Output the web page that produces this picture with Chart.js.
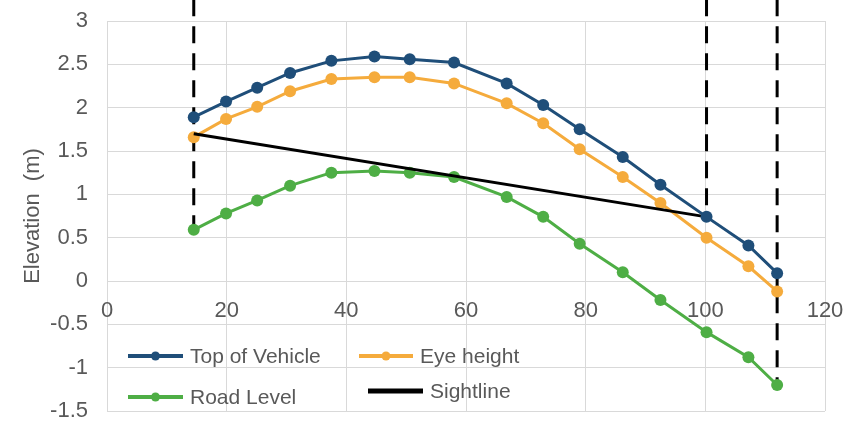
<!DOCTYPE html>
<html>
<head>
<meta charset="utf-8">
<script src="https://cdn.jsdelivr.net/npm/chart.js@4/dist/chart.umd.min.js"></script>
<style>
  body { margin: 0; background: #fff; }
</style>
</head>
<body>
<canvas id="chartElev" width="863" height="423"></canvas>
<script>
// chainage (m) of each survey point
const distance = [14.5, 19.9, 25.1, 30.6, 37.5, 44.7, 50.6, 58.0, 66.8, 72.9, 79.0, 86.2, 92.5, 100.2, 107.2, 112];
const topOfVehicle = [1.89, 2.07, 2.23, 2.40, 2.54, 2.59, 2.56, 2.52, 2.28, 2.03, 1.75, 1.43, 1.11, 0.74, 0.41, 0.09];
const eyeHeight = [1.66, 1.87, 2.01, 2.19, 2.33, 2.35, 2.35, 2.28, 2.05, 1.82, 1.52, 1.20, 0.90, 0.50, 0.17, -0.12];
const roadLevel = [0.59, 0.78, 0.93, 1.10, 1.25, 1.27, 1.25, 1.20, 0.97, 0.74, 0.43, 0.10, -0.22, -0.59, -0.88, -1.20];

const sightX = [14.5, 100.2];
const sightY = [1.70, 0.74];

// vertical markers: x position, lower end, upper end
const markerX = [14.5, 100.2, 112];
const markerLow = [0.59, 0.74, -1.20];
const markerHigh = [3.25, 3.25, 3.25];

const BLUE = "#1f4e79";
const ORANGE = "#f5ab3c";
const GREEN = "#4eae45";
const TEXT = "#595959";
const GRID = "#d9d9d9";
const FONT = "'Liberation Sans', Arial, sans-serif";

const pts = (xs, ys) => xs.map((x, i) => ({ x: x, y: ys[i] }));

const seriesStyle = (color) => ({
  borderColor: color,
  backgroundColor: color,
  borderWidth: 3,
  pointRadius: 6,
  pointHoverRadius: 6,
  pointBorderWidth: 0,
  tension: 0,
});

const markerSets = markerX.map((x, i) => ({
  label: "marker" + i,
  data: [{ x: x, y: markerHigh[i] }, { x: x, y: markerLow[i] }],
  borderColor: "#000",
  borderWidth: 3,
  borderDash: [17, 10],
  pointRadius: 0,
  clip: false,
}));

const legendItems = [
  { text: "Top of Vehicle", color: BLUE, dot: true, x: 21, y: 335, len: 55 },
  { text: "Eye height", color: ORANGE, dot: true, x: 252, y: 335, len: 54 },
  { text: "Road Level", color: GREEN, dot: true, x: 21, y: 376, len: 55 },
  { text: "Sightline", color: "#000", dot: false, x: 261, y: 370, len: 55 },
];

const legendPlugin = {
  id: "insideLegend",
  afterDraw(chart) {
    const ctx = chart.ctx;
    const a = chart.chartArea;
    ctx.save();
    ctx.font = "21px " + FONT;
    ctx.textBaseline = "alphabetic";
    legendItems.forEach((it) => {
      const x0 = a.left + it.x;
      const yl = a.top + it.y;
      ctx.strokeStyle = it.color;
      ctx.lineWidth = it.dot ? 4 : 5;
      ctx.beginPath();
      ctx.moveTo(x0, yl);
      ctx.lineTo(x0 + it.len, yl);
      ctx.stroke();
      if (it.dot) {
        ctx.fillStyle = it.color;
        ctx.beginPath();
        ctx.arc(x0 + it.len / 2, yl, 4.5, 0, Math.PI * 2);
        ctx.fill();
      }
      ctx.fillStyle = TEXT;
      ctx.fillText(it.text, x0 + it.len + 7, yl + 7);
    });
    ctx.restore();
  },
};

const noPad = (scale) => {
  scale.paddingTop = 0;
  scale.paddingBottom = 0;
};

new Chart("chartElev", {
  type: "line",
  data: {
    datasets: [
      Object.assign({ label: "Top of Vehicle", data: pts(distance, topOfVehicle) }, seriesStyle(BLUE)),
      {
        label: "Sightline",
        data: pts(sightX, sightY),
        borderColor: "#000",
        borderWidth: 3,
        pointRadius: 0,
      },
      Object.assign({ label: "Eye height", data: pts(distance, eyeHeight) }, seriesStyle(ORANGE)),
      Object.assign({ label: "Road Level", data: pts(distance, roadLevel) }, seriesStyle(GREEN)),
    ].concat(markerSets),
  },
  options: {
    responsive: false,
    animation: false,
    layout: { padding: { left: 0, right: 38, top: 21, bottom: 12 } },
    plugins: {
      legend: { display: false },
      tooltip: { enabled: false },
    },
    scales: {
      x: {
        type: "linear",
        min: 0,
        max: 120,
        position: { y: 0 },
        ticks: { stepSize: 20, color: TEXT, font: { family: FONT, size: 22 }, padding: 17 },
        grid: { color: GRID, drawTicks: false },
        border: { display: false },
        afterFit: (scale) => { scale.height = 0; noPad(scale); },
      },
      y: {
        min: -1.5,
        max: 3,
        ticks: {
          stepSize: 0.5,
          color: TEXT,
          font: { family: FONT, size: 22 },
          padding: 19,
          callback: (v) => String(Number(v.toFixed(1))),
        },
        grid: { color: GRID, drawTicks: false },
        border: { display: false },
        title: {
          display: true,
          text: "Elevation  (m)",
          color: TEXT,
          font: { family: FONT, size: 22 },
          padding: { top: 20, bottom: 0 },
        },
        afterFit: (scale) => { scale.width = 107; noPad(scale); },
      },
    },
  },
  plugins: [legendPlugin],
});
</script>
</body>
</html>
